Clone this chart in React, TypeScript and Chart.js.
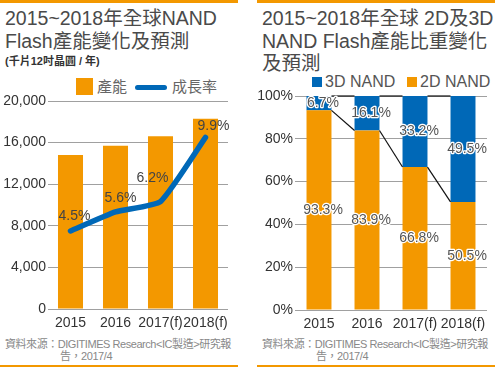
import React, { useEffect, useRef } from "react";
import { Chart, registerables } from "chart.js";

Chart.register(...registerables);

// ---- data ----
const years = ["2015", "2016", "2017(f)", "2018(f)"];
const capacity = [14800, 15700, 16600, 18300];
const growthRate = [4.5, 5.6, 6.2, 9.9];
const capacityTicks = [0, 4000, 8000, 12000, 16000, 20000];
const share2D = [93.3, 83.9, 66.8, 50.5];
const share3D = [6.7, 16.1, 33.2, 49.5];
const shareTicks = [0, 20, 40, 60, 80, 100];

// ---- styles ----
const ORANGE = "#F39800";
const BLUE = "#0068B7";
const GRID = "#a0a0a0";
const FONT = '"Liberation Sans", "Noto Sans CJK TC", Arial, sans-serif';
const growthLabelDx = [4, 5, -8, 8];
const growthLabelDy = [-15, -14, -23, -11];

const growthLabelPlugin = {
  id: "growthLabels",
  afterDatasetsDraw(chart: any) {
    const meta = chart.getDatasetMeta(1);
    const ctx = chart.ctx;
    ctx.save();
    ctx.font = `14px ${FONT}`;
    ctx.fillStyle = "#444";
    ctx.textAlign = "center";
    ctx.textBaseline = "middle";
    meta.data.forEach((el: any, i: number) => {
      ctx.fillText(growthRate[i].toFixed(1) + "%", el.x + growthLabelDx[i], el.y + growthLabelDy[i]);
    });
    ctx.restore();
  },
};

const shareLabelPlugin = {
  id: "shareLabels",
  afterDatasetsDraw(chart: any) {
    const ctx = chart.ctx;
    ctx.save();
    // series lines
    ctx.strokeStyle = "#111";
    ctx.lineWidth = 1.2;
    [0, 1].forEach((di) => {
      const els = chart.getDatasetMeta(di).data;
      for (let i = 0; i < els.length - 1; i++) {
        const a = els[i];
        const b = els[i + 1];
        ctx.beginPath();
        ctx.moveTo(a.x + a.width / 2, a.y);
        ctx.lineTo(b.x - b.width / 2, b.y);
        ctx.stroke();
      }
    });
    // labels
    ctx.font = `14px ${FONT}`;
    ctx.textAlign = "center";
    ctx.textBaseline = "middle";
    ctx.lineJoin = "round";
    [0, 1].forEach((di) => {
      const vals = di === 0 ? share2D : share3D;
      chart.getDatasetMeta(di).data.forEach((el: any, i: number) => {
        const p = el.getProps(["x", "y", "base"], true);
        const cx = p.x + 4;
        const cy = (p.y + p.base) / 2;
        const t = vals[i].toFixed(1) + "%";
        ctx.strokeStyle = "#fff";
        ctx.lineWidth = 2.5;
        ctx.strokeText(t, cx, cy);
        ctx.fillStyle = "#555";
        ctx.fillText(t, cx, cy);
      });
    });
    ctx.restore();
  },
};

export default function App() {
  const leftRef = useRef<HTMLCanvasElement>(null);
  const rightRef = useRef<HTMLCanvasElement>(null);

  useEffect(() => {
    const tickFont = { family: FONT, size: 14 };
    const xTicks = { font: tickFont, color: "#333", padding: 6, maxRotation: 0, minRotation: 0, autoSkip: false };
    const c1 = new Chart(leftRef.current as HTMLCanvasElement, {
      type: "bar",
      data: {
        labels: years,
        datasets: [
          {
            type: "bar",
            label: "產能",
            data: capacity,
            backgroundColor: ORANGE,
            yAxisID: "y",
            barPercentage: 0.556,
            categoryPercentage: 1,
            order: 2,
          } as any,
          {
            type: "line",
            label: "成長率",
            data: growthRate,
            borderColor: BLUE,
            borderWidth: 5.5,
            borderCapStyle: "round",
            pointRadius: 0,
            tension: 0.15,
            yAxisID: "y2",
            order: 1,
          } as any,
        ],
      },
      options: {
        responsive: false,
        animation: false,
        layout: { padding: { top: 11, right: 10, left: 0, bottom: 0 } },
        plugins: { legend: { display: false }, tooltip: { enabled: false } },
        scales: {
          x: {
            grid: { display: false, drawTicks: false },
            border: { display: false },
            ticks: xTicks,
            afterFit: (s: any) => { s.height = 24; },
          },
          y: {
            min: 0,
            max: 20000,
            afterBuildTicks: (s: any) => { s.ticks = capacityTicks.map((v) => ({ value: v })); },
            ticks: {
              font: tickFont,
              color: "#333",
              padding: 2,
              callback: (v: any) => Number(v).toLocaleString("en-US"),
            },
            grid: { color: GRID, lineWidth: 1, drawTicks: false },
            border: { display: false },
            afterFit: (s: any) => { s.width = 48; },
          },
          y2: { display: false, min: 0, max: 12 },
        },
      } as any,
      plugins: [growthLabelPlugin],
    });

    const c2 = new Chart(rightRef.current as HTMLCanvasElement, {
      type: "bar",
      data: {
        labels: years,
        datasets: [
          { label: "2D NAND", data: share2D, backgroundColor: ORANGE, barPercentage: 0.52, categoryPercentage: 1 },
          { label: "3D NAND", data: share3D, backgroundColor: BLUE, barPercentage: 0.52, categoryPercentage: 1 },
        ],
      },
      options: {
        responsive: false,
        animation: false,
        layout: { padding: { top: 11, right: 11, left: 0, bottom: 0 } },
        plugins: { legend: { display: false }, tooltip: { enabled: false } },
        scales: {
          x: {
            stacked: true,
            grid: { display: false, drawTicks: false },
            border: { display: false },
            ticks: xTicks,
            afterFit: (s: any) => { s.height = 24; },
          },
          y: {
            stacked: true,
            min: 0,
            max: 100,
            afterBuildTicks: (s: any) => { s.ticks = shareTicks.map((v) => ({ value: v })); },
            ticks: { font: tickFont, color: "#333", padding: 2, callback: (v: any) => v + "%" },
            grid: { color: GRID, lineWidth: 1, drawTicks: false },
            border: { display: false },
            afterFit: (s: any) => { s.width = 38; },
          },
        },
      } as any,
      plugins: [shareLabelPlugin],
    });

    return () => {
      c1.destroy();
      c2.destroy();
    };
  }, []);

  const abs = (o: any) => ({ position: "absolute" as const, ...o });
  const titleStyle = {
    fontSize: 19.5,
    lineHeight: "22.5px",
    color: "#4a4a4a",
    fontFamily: FONT,
    whiteSpace: "nowrap" as const,
  };
  const srcStyle = {
    fontSize: 11,
    lineHeight: "12px",
    color: "#888",
    fontFamily: FONT,
    whiteSpace: "nowrap" as const,
    letterSpacing: "-0.45px",
  };
  const legText = { fontSize: 15, color: "#666", fontFamily: FONT, whiteSpace: "nowrap" as const, lineHeight: "18px" };

  return (
    <div style={abs({ left: 0, top: 0, width: 498, height: 367, background: "#fff", overflow: "hidden" })}>
      {/* frame strips */}
      <div style={abs({ left: 0, top: 0, width: 238, height: 3, background: ORANGE })} />
      <div style={abs({ left: 257, top: 0, width: 238, height: 3, background: ORANGE })} />
      <div style={abs({ left: 0, top: 365, width: 238, height: 2, background: ORANGE })} />
      <div style={abs({ left: 257, top: 365, width: 238, height: 2, background: ORANGE })} />

      {/* left panel */}
      <div style={abs({ left: 5, top: 7, ...titleStyle })}>
        2015~2018年全球NAND
        <br />
        Flash產能變化及預測
      </div>
      <div style={abs({ left: 5, top: 55, fontSize: 11, fontWeight: "bold", color: "#333", fontFamily: FONT, whiteSpace: "nowrap", lineHeight: "13px" })}>
        (千片12吋晶圓 / 年)
      </div>
      <div style={abs({ left: 76, top: 78, width: 17, height: 17, background: ORANGE })} />
      <div style={abs({ left: 97, top: 78, ...legText })}>產能</div>
      <div style={abs({ left: 135, top: 85, width: 32, height: 5, borderRadius: 3, background: BLUE })} />
      <div style={abs({ left: 172, top: 78, ...legText })}>成長率</div>
      <canvas ref={leftRef} width={238} height={243} style={abs({ left: 0, top: 90, width: 238, height: 243 })} />
      <div style={abs({ left: 5, top: 338, ...srcStyle })}>
        資料來源：DIGITIMES Research&lt;IC製造&gt;研究報
        <br />
        <span style={{ paddingLeft: 55 }}>告，2017/4</span>
      </div>

      {/* right panel */}
      <div style={abs({ left: 262, top: 7, ...titleStyle })}>
        2015~2018年全球 2D及3D
        <br />
        NAND Flash產能比重變化
        <br />
        及預測
      </div>
      <div style={abs({ left: 312, top: 77, width: 10, height: 10, background: BLUE })} />
      <div style={abs({ left: 325, top: 73, ...legText, fontSize: 16, color: "#555" })}>3D NAND</div>
      <div style={abs({ left: 407, top: 77, width: 10, height: 10, background: ORANGE })} />
      <div style={abs({ left: 420, top: 73, ...legText, fontSize: 16, color: "#555" })}>2D NAND</div>
      <canvas ref={rightRef} width={241} height={249} style={abs({ left: 257, top: 85, width: 241, height: 249 })} />
      <div style={abs({ left: 262, top: 338, ...srcStyle })}>
        資料來源：DIGITIMES Research&lt;IC製造&gt;研究報
        <br />
        <span style={{ paddingLeft: 54 }}>告，2017/4</span>
      </div>
    </div>
  );
}
